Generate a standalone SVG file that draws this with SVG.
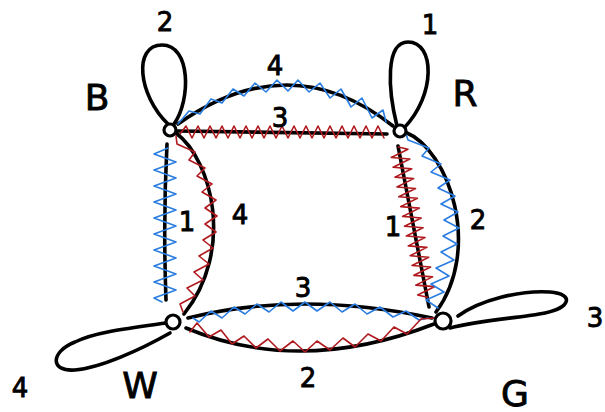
<svg xmlns="http://www.w3.org/2000/svg" width="605" height="412" viewBox="0 0 605 412">
<style>
.e{fill:none;stroke:#000;stroke-width:3.6;stroke-linecap:round;stroke-linejoin:round}
.b{fill:none;stroke:#2a7de1;stroke-width:1.6;stroke-linejoin:round;stroke-linecap:round}
.r{fill:none;stroke:#b01a1f;stroke-width:1.6;stroke-linejoin:round;stroke-linecap:round}
.n{fill:#fff;stroke:#000;stroke-width:3.2}
text{font-family:"DejaVu Sans","Open Sans",sans-serif;fill:#000;stroke:#000;stroke-width:0.9;text-anchor:middle;dominant-baseline:central}
.d{font-size:26px}
.l{font-size:36px}
</style>
<rect width="605" height="412" fill="#fff"/>
<g id="connectors">
  <path class="e" d="M168,124 C138,95 133,45 162,45 C191,45 191,100 174,124"/>
  <path class="e" d="M397,126 C388,90 385,42 408,42 C435,42 436,95 404,128"/>
  <path class="e" d="M166,323 C130,328 95,332 75,342 C50,352 50,372 75,370 C100,368 140,350 170,333"/>
  <path class="e" d="M458,316 C480,300 520,290 550,292 C575,294 570,308 545,313 C520,318 480,320 450,328"/>
  <path class="e" d="M178,124 Q290,45 393,126"/>
  <polyline class="b" points="178,124 189,111 200,114 211,99 222,103 233,89 244,96 255,83 266,92 277,80 288,91 298,80 309,92 320,83 330,98 341,89 351,107 362,98 372,118 383,110 386,122"/>
  <path class="e" d="M178,131 L387,134"/>
  <path class="r" d="M180,134 l6,-8 6,12 6,-12 6,12 6,-12 6,12 6,-12 6,12 6,-12 6,12 6,-12 6,12 6,-12 6,12 6,-12 6,12 6,-12 6,12 6,-12 6,12 6,-12 6,12 6,-12 6,12 6,-12 6,12 6,-12 6,12 6,-12 6,12 6,-12 6,12 6,-12 6,12"/>
  <path class="e" d="M167,144 Q163,220 166,300"/>
  <path class="b" d="M168,148 l-14,6 22,8 -22,8 22,8 -22,8 22,8 -22,8 22,8 -22,8 22,8 -22,8 22,8 -22,8 22,8 -22,8 22,8 -22,8 22,8 -22,8 l8,4"/>
  <path class="e" d="M176,133 C212,160 235,250 184,314"/>
  <polyline class="r" points="176,136 177,144 195,152 189,160 205,168 197,176 212,184 202,192 216,200 205,208 217,216 205,224 216,232 203,240 213,248 199,256 209,264 194,272 203,280 187,288 195,296 180,304 183,312"/>
  <path class="e" d="M398,146 L429,307"/>
  <path class="r" transform="translate(398,145) rotate(79.1)" d="M2,0 l4,-9 5,18 5,-18 5,18 5,-18 5,18 5,-18 5,18 5,-18 5,18 5,-18 5,18 5,-18 5,18 5,-18 5,18 5,-18 5,18 5,-18 5,18 5,-18 5,18 5,-18 5,18 5,-18 5,18 5,-18 5,18 5,-18 5,18 4,-9"/>
  <path class="e" d="M405,132 C450,150 482,250 436,312"/>
  <polyline class="b" points="406,134 408,140 429,148 422,156 441,164 431,172 450,180 438,188 455,196 441,204 458,212 444,220 459,228 443,236 457,244 441,252 454,260 436,268 449,276 431,284 444,292 426,300 438,308"/>
  <path class="e" d="M188,318 Q300,290 432,318"/>
  <polyline class="b" points="193,318 199,322 211,311 222,318 234,307 245,314 257,304 269,312 281,302 293,311 305,302 317,311 330,302 342,312 355,304 367,314 380,307 393,317 406,311 419,320 428,318"/>
  <path class="e" d="M186,328 Q300,376 434,324"/>
  <polyline class="r" points="190,332 197,323 209,337 221,330 232,344 244,336 256,348 268,339 280,351 293,341 305,352 317,341 330,350 343,338 355,347 368,334 381,341 394,327 407,334 421,319 434,318"/>
</g>
<g id="node-B"><circle class="n" cx="170" cy="130" r="6"/><text class="l" x="97" y="97">B</text><text class="d" x="165" y="22">2</text></g>
<g id="node-R"><circle class="n" cx="400" cy="131" r="6"/><text class="l" x="465" y="93">R</text><text class="d" x="430" y="25">1</text></g>
<g id="node-W"><circle class="n" cx="173" cy="322" r="7"/><text class="l" x="140" y="385">W</text><text class="d" x="20" y="388">4</text></g>
<g id="node-G"><circle class="n" cx="443" cy="321" r="8"/><text class="l" x="515" y="393">G</text><text class="d" x="595" y="318">3</text></g>
<g id="edge-labels">
  <text class="d" x="275" y="66">4</text>
  <text class="d" x="280" y="118">3</text>
  <text class="d" x="187" y="222">1</text>
  <text class="d" x="240" y="215">4</text>
  <text class="d" x="393" y="227">1</text>
  <text class="d" x="478" y="220">2</text>
  <text class="d" x="303" y="288">3</text>
  <text class="d" x="308" y="378">2</text>
</g>
</svg>
